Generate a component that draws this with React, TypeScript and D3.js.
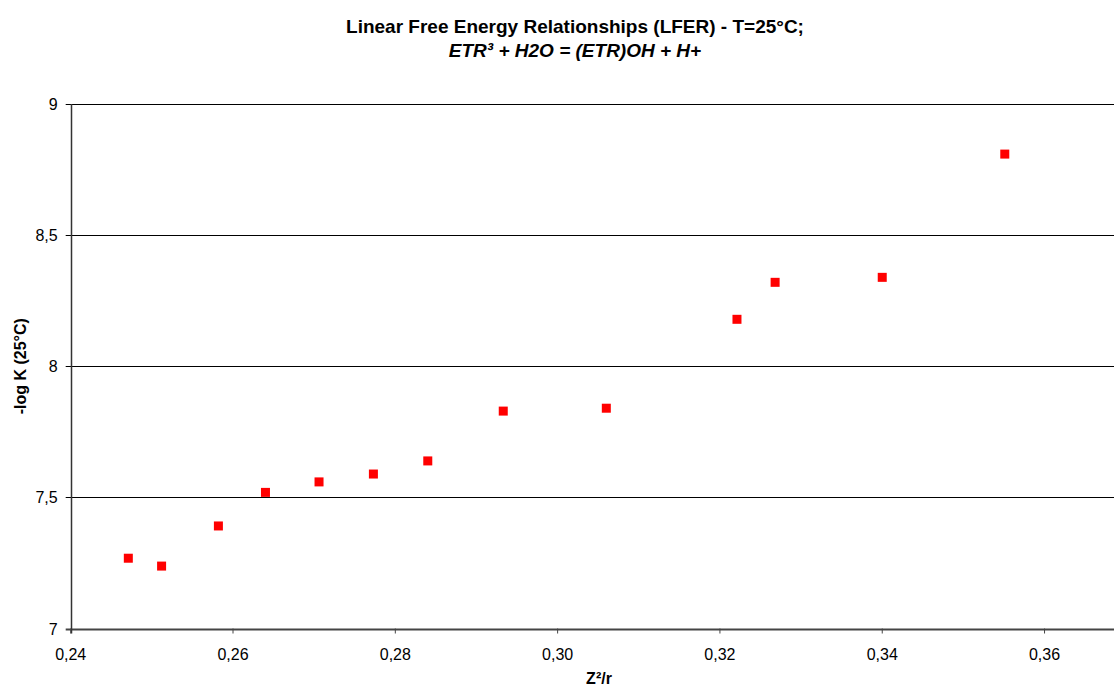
import React from "react";
import * as d3 from "d3";

const xValues = [0.2471, 0.2512, 0.2582, 0.2640, 0.2706, 0.2773, 0.2840, 0.2933, 0.3060, 0.3221, 0.3268, 0.3400, 0.3551];
const yValues = [7.268, 7.238, 7.391, 7.519, 7.559, 7.589, 7.639, 7.829, 7.840, 8.179, 8.320, 8.339, 8.809];
const xTicks = [0.24, 0.26, 0.28, 0.3, 0.32, 0.34, 0.36];
const yTicks = [7, 7.5, 8, 8.5, 9];
const title1 = "Linear Free Energy Relationships (LFER) - T=25°C;";
const title2 = "ETR³ + H2O = (ETR)OH + H+";
const xTitle = "Z²/r";
const yTitle = "-log K (25°C)";

const W = 1114;
const H = 687;

export default function App() {
  const x = d3.scaleLinear().domain([0.24, 0.37]).range([70.7, 1125.7]);
  const y = d3.scaleLinear().domain([7, 9]).range([628.5, 104]);
  const fx = (v: number) => d3.format(".2f")(v).replace(".", ",");
  const fy = (v: number) => String(v).replace(".", ",");
  const font = "'Liberation Sans', Arial, sans-serif";
  const s = 9;
  return (
    <svg width={W} height={H} style={{ position: "absolute", left: 0, top: 0, background: "#fff" }} fontFamily={font}>
      <text x={575} y={33} textAnchor="middle" fontSize={19} fontWeight="bold">{title1}</text>
      <text x={575} y={57} textAnchor="middle" fontSize={19} fontWeight="bold" fontStyle="italic">{title2}</text>
      {yTicks.map((t) => (
        <g key={t}>
          <line x1={x(0.24) - 5} x2={W} y1={Math.round(y(t)) + 0.5} y2={Math.round(y(t)) + 0.5} stroke={t === 7 ? "#444" : "#000"} strokeWidth={t === 7 ? 2 : 1} />
          <text x={x(0.24) - 13} y={y(t) + 6} textAnchor="end" fontSize={16}>{fy(t)}</text>
        </g>
      ))}
      <line x1={Math.round(x(0.24)) + 0.5} x2={Math.round(x(0.24)) + 0.5} y1={y(9)} y2={y(7) + 5} stroke="#333" strokeWidth={1.5} />
      {xTicks.map((t) => (
        <g key={t}>
          <line x1={x(t)} x2={x(t)} y1={y(7)} y2={y(7) + 5} stroke="#444" strokeWidth={1} />
          <text x={x(t)} y={y(7) + 31} textAnchor="middle" fontSize={16}>{fx(t)}</text>
        </g>
      ))}
      <text x={599} y={684} textAnchor="middle" fontSize={16} fontWeight="bold">{xTitle}</text>
      <text transform={`translate(26,${(y(7) + y(9)) / 2}) rotate(-90)`} textAnchor="middle" fontSize={16} fontWeight="bold">{yTitle}</text>
      {xValues.map((v, i) => (
        <rect key={i} x={x(v) - s / 2} y={y(yValues[i]) - s / 2} width={s} height={s} fill="#ff0000" />
      ))}
    </svg>
  );
}
